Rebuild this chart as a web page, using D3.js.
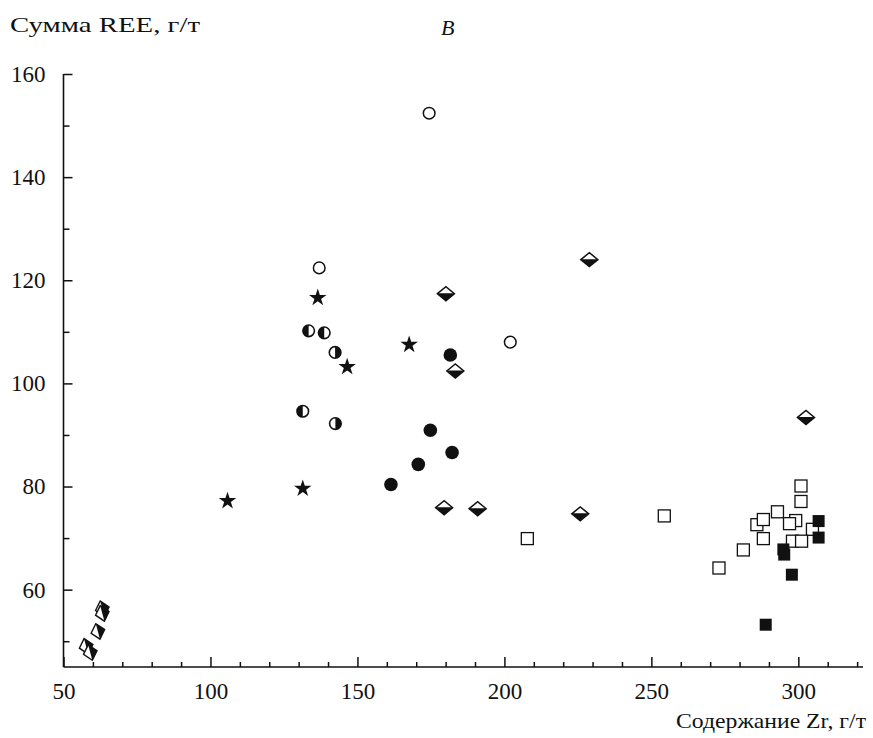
<!DOCTYPE html>
<html><head><meta charset="utf-8">
<script src="https://cdn.jsdelivr.net/npm/d3@7"></script>
<style>
body{margin:0;background:#fff;}
text{font-family:"Liberation Serif","DejaVu Serif",serif;fill:#111;}
</style></head>
<body><svg id="c" width="873" height="738"></svg>
<script>
// Data (Zr, sum REE) per group
const openCircles = [[174.4,152.4],[137.0,122.4],[202.0,108.0]];
const halfCircles = [[133.4,110.2,"L"],[138.7,109.8,"L"],[142.4,106.0,"R"],[131.4,94.6,"L"],[142.5,92.2,"R"]];
const stars = [[136.5,116.6],[146.5,103.2],[167.6,107.5],[131.4,79.6],[105.8,77.2]];
const filledCircles = [[181.6,105.5],[174.8,90.9],[182.2,86.6],[170.7,84.3],[161.4,80.4]];
const diamondsTB = [[228.9,124.0],[180.1,117.4],[183.3,102.4],[179.5,75.9],[190.9,75.7],[225.8,74.7],[302.6,93.4]];
const diamondsLR = [[63.2,56.3],[63.2,55.4],[61.7,51.9],[57.7,49.0],[59.1,47.8]];
const openSquares = [[300.9,80.1],[300.9,77.1],[292.9,75.1],[285.9,72.6],[288.1,73.6],[299.1,73.4],[304.8,71.7],[288.1,69.9],[298.0,69.4],[301.1,69.4],[281.3,67.7],[273.0,64.2],[254.4,74.3],[207.8,69.9],[297.0,72.8]];
const filledSquares = [[306.9,73.3],[306.9,70.1],[294.9,67.8],[295.2,66.8],[297.8,62.9],[288.9,53.2]];
const xMajor = [50,100,150,200,250,300];
const xMinor = [60,70,80,90,110,120,130,140,160,170,180,190,210,220,230,240,260,270,280,290,310,320];
const yMajor = [60,80,100,120,140,160];
const yMinor = [50,70,90,110,130,150];

const svg = d3.select("#c");
const x = d3.scaleLinear().domain([50,322]).range([63.5,863]);
const y = d3.scaleLinear().domain([45,160]).range([667,74]);

// axes
const gx = svg.append("g").attr("transform","translate(0,667)");
gx.call(d3.axisBottom(x).tickValues(xMajor).tickSize(-10).tickPadding(16).tickFormat(d3.format("d")));
const gxm = svg.append("g").attr("transform","translate(0,667)");
gxm.call(d3.axisBottom(x).tickValues(xMinor).tickSize(-5).tickFormat(""));
gxm.select(".domain").remove();
const gy = svg.append("g").attr("transform","translate(63.5,0)");
gy.call(d3.axisLeft(y).tickValues(yMajor).tickSize(-9).tickPadding(18).tickFormat(d3.format("d")));
const gym = svg.append("g").attr("transform","translate(63.5,0)");
gym.call(d3.axisLeft(y).tickValues(yMinor).tickSize(-6).tickFormat(""));
gym.select(".domain").remove();
svg.selectAll(".domain").attr("stroke","#111").attr("stroke-width",1.6);
svg.selectAll(".tick line").attr("stroke","#111").attr("stroke-width",1.5);
svg.selectAll(".tick text").attr("font-family","Liberation Serif, serif").attr("font-size",23).attr("fill","#111");
gx.selectAll(".domain").attr("d","M63.5,0H863");
gy.selectAll(".domain").attr("d","M0,74V667");

// titles
svg.append("text").attr("x",10).attr("y",32).attr("font-size",21)
  .attr("textLength",190).attr("lengthAdjust","spacingAndGlyphs").text("Сумма REE, г/т");
svg.append("text").attr("x",441).attr("y",35).attr("font-size",22).attr("font-style","italic").text("В");
svg.append("text").attr("x",866).attr("y",728).attr("font-size",21).attr("text-anchor","end")
  .attr("textLength",190).attr("lengthAdjust","spacingAndGlyphs").text("Содержание Zr, г/т");

const g = svg.append("g");
// open circles
g.selectAll(".oc").data(openCircles).join("circle")
 .attr("cx",d=>x(d[0])).attr("cy",d=>y(d[1])).attr("r",5.8)
 .attr("fill","#fff").attr("stroke","#111").attr("stroke-width",1.5);
// half circles
const hc = g.selectAll(".hc").data(halfCircles).join("g")
 .attr("transform",d=>`translate(${x(d[0])},${y(d[1])})`);
hc.append("circle").attr("r",5.8).attr("fill","#fff").attr("stroke","#111").attr("stroke-width",1.6);
hc.append("path").attr("d",d=> d[2]==="L" ? "M0,-5.8A5.8,5.8 0 0 0 0,5.8Z" : "M0,-5.8A5.8,5.8 0 0 1 0,5.8Z").attr("fill","#111");
// stars
g.selectAll(".st").data(stars).join("path")
 .attr("d",d3.symbol().type(d3.symbolStar).size(95))
 .attr("transform",d=>`translate(${x(d[0])},${y(d[1])})`).attr("fill","#111");
// filled circles
g.selectAll(".fc").data(filledCircles).join("circle")
 .attr("cx",d=>x(d[0])).attr("cy",d=>y(d[1])).attr("r",6.8).attr("fill","#111");
// diamonds top white / bottom black
const dt = g.selectAll(".dt").data(diamondsTB).join("g")
 .attr("transform",d=>`translate(${x(d[0])},${y(d[1])})`);
dt.append("path").attr("d","M-8.5,0L0,-7L8.5,0L0,7Z").attr("fill","#fff").attr("stroke","#111").attr("stroke-width",1.5).attr("stroke-linejoin","miter");
dt.append("path").attr("d","M-8.5,-0.5L8.5,-0.5L0,7Z").attr("fill","#111");
// diamonds left white / right black
const dl = g.selectAll(".dl").data(diamondsLR).join("g")
 .attr("transform",d=>`translate(${x(d[0])},${y(d[1])}) rotate(-15)`);
dl.append("path").attr("d","M-7,0L0,-8L7,0L0,8Z").attr("fill","#fff").attr("stroke","#111").attr("stroke-width",1.4);
dl.append("path").attr("d","M0,-8L7,0L0,8Z").attr("fill","#111");
// open squares
g.selectAll(".os").data(openSquares).join("rect")
 .attr("x",d=>x(d[0])-6).attr("y",d=>y(d[1])-6).attr("width",12).attr("height",12)
 .attr("fill","#fff").attr("stroke","#111").attr("stroke-width",1.3);
// filled squares
g.selectAll(".fs").data(filledSquares).join("rect")
 .attr("x",d=>x(d[0])-6).attr("y",d=>y(d[1])-6).attr("width",12).attr("height",12)
 .attr("fill","#111");
</script></body></html>
